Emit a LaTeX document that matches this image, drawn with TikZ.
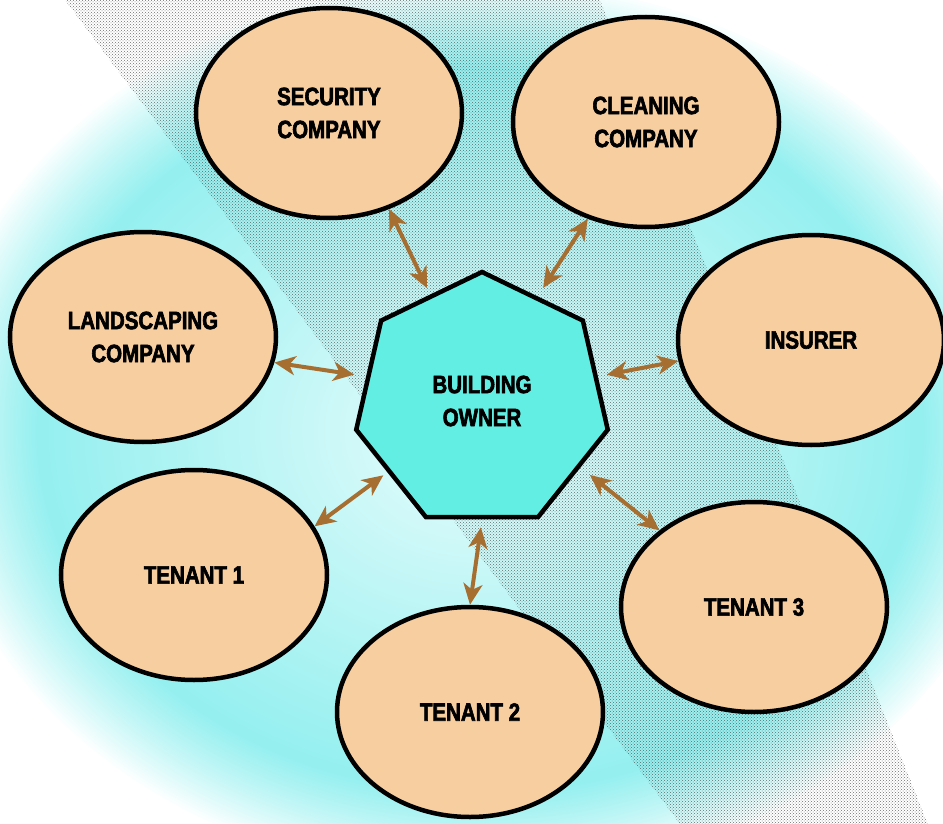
\documentclass[tikz,border=0pt]{standalone}
\usepackage{fontspec}
\setmainfont{Liberation Sans}[FakeStretch=0.82,BoldFeatures={FakeBold=2.5}]
\usetikzlibrary{shapes.geometric,arrows.meta,patterns,fadings}
\definecolor{peach}{RGB}{246,206,160}
\definecolor{aqua}{RGB}{98,238,226}
\definecolor{arrowbrown}{RGB}{166,110,48}
\definecolor{glowout}{RGB}{128,236,236}
\definecolor{glowin}{RGB}{232,252,252}

\begin{document}
\begin{tikzpicture}[x=1pt,y=-1pt,
  party/.style={ellipse,draw=black,line width=4.5pt,fill=peach,inner sep=0pt,
    minimum width=266pt,minimum height=210pt,align=center,
    font=\bfseries\fontsize{25}{33}\selectfont},
  hub/.style={regular polygon,regular polygon sides=7,draw=black,line width=4.5pt,
    fill=aqua,minimum size=258pt,inner sep=0pt,align=center,
    font=\bfseries\fontsize{25}{33}\selectfont},
  link/.style={arrowbrown,line width=4pt,
    {Stealth[length=21pt,width=19pt,inset=6pt]}-{Stealth[length=21pt,width=19pt,inset=6pt]}}]
  \useasboundingbox (0,0) rectangle (943,824);

  % glow and dotted band behind everything
  \shade[inner color=glowin,outer color=glowout,
    path fading=circle with fuzzy edge 20 percent] (480,430) ellipse (550 and 450);
  \fill[pattern=crosshatch dots,pattern color=black!75,opacity=.75]
    (65,0) -- (600,0) -- (928,824) -- (680,824) -- cycle;

  \node[party] (security) at (329,113) {SECURITY\\COMPANY};
  \node[party] (cleaning) at (646,122) {CLEANING\\COMPANY};
  \node[party] (insurer) at (811,340) {INSURER};
  \node[party] (landscaping) at (143,337) {LANDSCAPING\\COMPANY};
  \node[party] (tenantA) at (194,575) {TENANT 1};
  \node[party] (tenantB) at (470,712) {TENANT 2};
  \node[party] (tenantC) at (754,607) {TENANT 3};

  \node[hub] (owner) at (482,401) {BUILDING\\OWNER};

  \draw[link,shorten >=7pt] (security.-58) -- (owner.116);
  \draw[link,shorten >=10pt] (cleaning.-121) -- (owner.62);
  \draw[link,shorten >=12pt] (landscaping.-11) -- (owner.168);
  \draw[link,shorten >=9pt] (insurer.189) -- (owner.12);
  \draw[link,shorten >=5pt] (tenantA.22) -- (owner.217);
  \draw[link,shorten >=8pt] (tenantB.90) -- (owner.-90);
  \draw[link,shorten >=12pt] (tenantC.141) -- (owner.-34);

\end{tikzpicture}
\end{document}
